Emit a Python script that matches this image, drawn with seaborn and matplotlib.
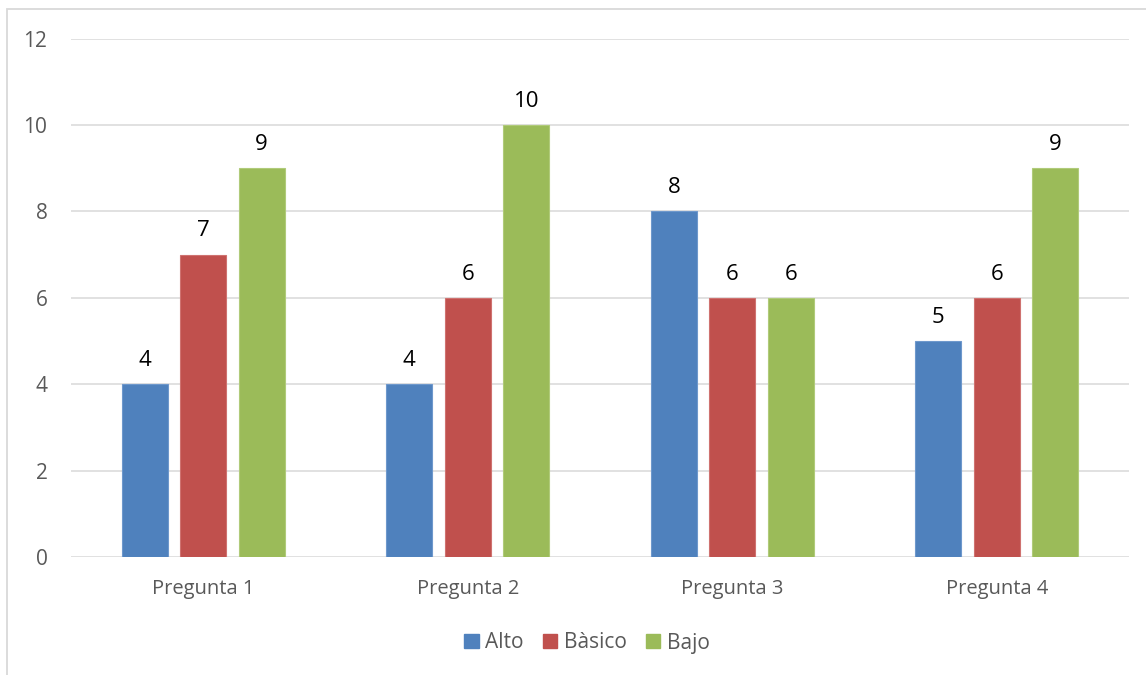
import matplotlib
matplotlib.use("Agg")
import matplotlib.pyplot as plt
from matplotlib.patches import Rectangle, Patch
import seaborn as sns
import pandas as pd

# Results per question and level
preguntas = ["Pregunta 1", "Pregunta 2", "Pregunta 3", "Pregunta 4"]
niveles = ["Alto", "Bàsico", "Bajo"]
alto = [4, 4, 8, 5]
basico = [7, 6, 6, 6]
bajo = [9, 10, 6, 9]
y_ticks = [0, 2, 4, 6, 8, 10, 12]

colores = ["#4F81BD", "#C0504D", "#9BBB59"]
bordes = ["#6E98CC", "#CF7270", "#B0CB7A"]

df = pd.DataFrame({
    "pregunta": preguntas * 3,
    "nivel": [n for n in niveles for _ in preguntas],
    "valor": alto + basico + bajo,
})

sns.set_theme(style="white")
plt.rcParams["font.family"] = ["Open Sans", "DejaVu Sans"]

W, H = 1146, 675
fig = plt.figure(figsize=(W / 100, H / 100), dpi=100)
ax = fig.add_axes([71 / W, 1 - 557 / H, (1129 - 71) / W, (557 - 38.7) / H])

sns.barplot(data=df, x="pregunta", y="valor", hue="nivel", order=preguntas,
            hue_order=niveles, palette=colores, saturation=1, width=0.6635,
            gap=0.214, ax=ax, legend=True, errorbar=None)

for cont, borde in zip(ax.containers, bordes):
    for bar in cont:
        bar.set_edgecolor(borde)
        bar.set_linewidth(0.8)
    ax.bar_label(cont, labels=[str(int(v)) for v in cont.datavalues],
                 padding=9.5, fontsize=16, color="#000000")

ax.set_ylim(0, 12)
ax.set_xlim(-0.5, 3.5)
ax.set_yticks(y_ticks)
ax.yaxis.grid(True, color="#D9D9D9", linewidth=1.1)
ax.set_axisbelow(True)
for s in ax.spines.values():
    s.set_visible(False)
ax.tick_params(axis="y", length=0, pad=17, labelsize=15, labelcolor="#595959")
ax.tick_params(axis="x", length=0, pad=16, labelsize=14.5, labelcolor="#595959")
ax.set_xlabel("")
ax.set_ylabel("")

leg = ax.get_legend()
if leg is not None:
    leg.remove()
handles = [Patch(facecolor=c, edgecolor=c) for c in colores]
fig.legend(handles, niveles, loc="center", bbox_to_anchor=(587 / W, 1 - 643 / H),
           ncol=3, frameon=False, fontsize=15, labelcolor="#595959",
           handlelength=0.68, handleheight=0.68, handletextpad=0.3,
           columnspacing=0.95)

# Chart frame
fig.patches.append(Rectangle((7 / W, -0.1), 1.2, 1 - 9 / H + 0.1,
                             transform=fig.transFigure, fill=False,
                             edgecolor="#D9D9D9", linewidth=1.3))

fig.savefig("out.png", dpi=100, facecolor="white")
